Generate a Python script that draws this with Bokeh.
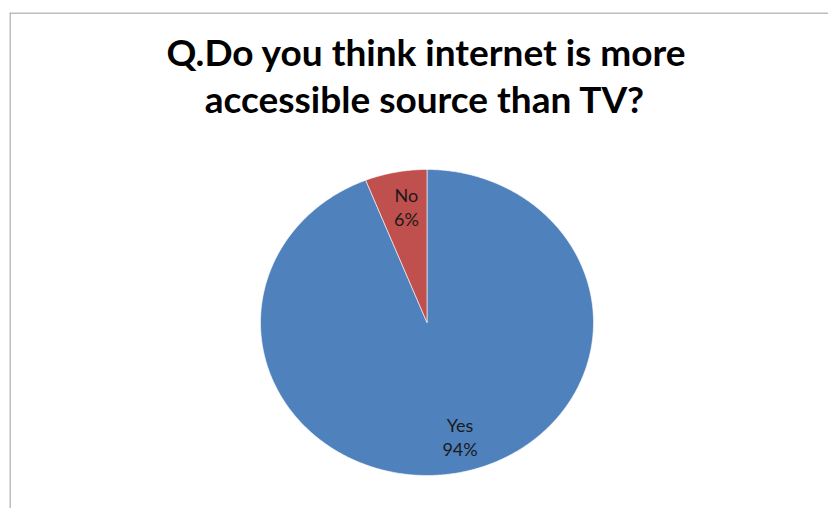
import numpy as np
from bokeh.plotting import figure
from bokeh.models import Range1d, Span
from bokeh.core.properties import value
from bokeh.embed import file_html
from bokeh.resources import INLINE

# ---- data ----
categories = ["Yes", "No"]
percents = [94, 6]
colors = ["#4F81BD", "#C0504D"]
title_lines = ["Q.Do you think internet is more", "accessible source than TV?"]

# ---- layout (frame in pixel-like units) ----
W, H = 828, 508
FW, FH = 819, 496
cx, cy = 417.5, 186.0
rx, ry = 166.5, 153.0

p = figure(width=W, height=H, output_backend="svg", toolbar_location=None,
           x_range=Range1d(0, FW), y_range=Range1d(0, FH),
           x_axis_location=None, y_axis_location=None,
           min_border_left=9, min_border_top=12, min_border_right=0, min_border_bottom=0)
p.grid.visible = False
p.outline_line_color = None
p.background_fill_color = "white"
p.border_fill_color = "white"

# box border (top and left edges visible)
p.add_layout(Span(location=0.5, dimension="height", line_color="#a8a8a8", line_width=1.5))
p.add_layout(Span(location=FH - 0.5, dimension="width", line_color="#a8a8a8", line_width=1.5))

# ---- pie slices (clockwise from 12 o'clock) ----
total = float(sum(percents))
start = np.pi / 2
xs, ys, mids = [], [], []
for v in percents:
    sweep = 2 * np.pi * v / total
    end = start - sweep
    t = np.linspace(start, end, max(int(abs(sweep) / (2 * np.pi) * 720), 8))
    xs.append([cx] + list(cx + rx * np.cos(t)) + [cx])
    ys.append([cy] + list(cy + ry * np.sin(t)) + [cy])
    mids.append((start + end) / 2)
    start = end

p.patches(xs=xs, ys=ys, fill_color=colors, line_color="white", line_width=0.6)

# ---- slice labels ----
fx = [1.06, 0.66]
fy = [0.76, 0.77]
lx, ly1, ly2, t1, t2 = [], [], [], [], []
for i, (c, v) in enumerate(zip(categories, percents)):
    m = mids[i]
    x = cx + fx[i] * rx * np.cos(m)
    y = cy + fy[i] * ry * np.sin(m)
    lx.append(x)
    ly1.append(y + 12)
    ly2.append(y - 12)
    t1.append(c)
    t2.append(f"{v}%")

p.text(x=lx + lx, y=ly1 + ly2, text=t1 + t2, text_align="center", text_baseline="middle",
       text_font=value("Lato"), text_font_size="18px", text_color="#1a1a1a")

# ---- title ----
p.text(x=[417, 415.5], y=[457.5, 410], text=title_lines,
       text_align="center", text_baseline="middle",
       text_font=value("Lato"), text_font_style="bold", text_font_size="37px",
       text_color="black")

open("out.html", "w").write(file_html(p, INLINE))
